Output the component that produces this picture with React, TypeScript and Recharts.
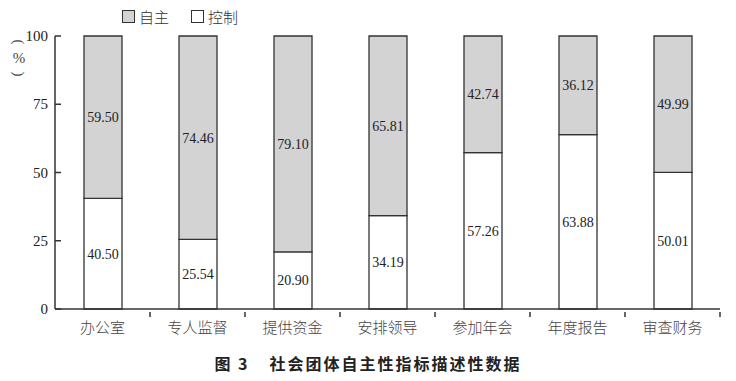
import { BarChart, Bar, XAxis, YAxis, LabelList } from 'recharts';

const categories = ['办公室', '专人监督', '提供资金', '安排领导', '参加年会', '年度报告', '审查财务'];
const controlValues = [40.5, 25.54, 20.9, 34.19, 57.26, 63.88, 50.01];
const autonomyValues = [59.5, 74.46, 79.1, 65.81, 42.74, 36.12, 49.99];
const yTicks = [0, 25, 50, 75, 100];

const data = categories.map((name, i) => ({
  name,
  control: controlValues[i],
  autonomy: autonomyValues[i],
}));

const serif = '"Liberation Serif", "DejaVu Serif", serif';
const cjk = '"Noto Sans CJK SC", sans-serif';
const axisColor = '#333';

const CHART_W = 736;
const MARGIN = { top: 36, right: 16, left: 0, bottom: 6 };
const Y_WIDTH = 55;
const halfBand = (CHART_W - MARGIN.left - MARGIN.right - Y_WIDTH) / categories.length / 2;

function XTick(props: any) {
  const { x, y, payload } = props;
  return (
    <g>
      <line x1={x + halfBand} y1={y} x2={x + halfBand} y2={y - 5} stroke={axisColor} strokeWidth={1.5} />
      <text x={x} y={y + 16} textAnchor="middle" fill="#444" fontSize={15} fontFamily={cjk} fontWeight={300}>
        {payload.value}
      </text>
    </g>
  );
}

function YTick(props: any) {
  const { x, y, payload } = props;
  return (
    <g>
      <line x1={x} y1={y} x2={x + 6} y2={y} stroke={axisColor} strokeWidth={1.5} />
      <text x={x - 7} y={y + 5} textAnchor="end" fill="#222" fontSize={15} fontFamily={serif}>
        {payload.value}
      </text>
    </g>
  );
}

function YLabel() {
  return (
    <g fill="#444" fontSize={15} fontFamily={serif}>
      <text x={0} y={0} transform="translate(19 42) rotate(90)" textAnchor="middle" dominantBaseline="central">(</text>
      <text x={19} y={58} textAnchor="middle" dominantBaseline="central">%</text>
      <text x={0} y={0} transform="translate(19 74) rotate(90)" textAnchor="middle" dominantBaseline="central">)</text>
    </g>
  );
}

function LegendBox() {
  const item = (fill: string, label: string) => (
    <span style={{ display: 'inline-flex', alignItems: 'center', marginRight: 22 }}>
      <span style={{ width: 11, height: 11, background: fill, border: '1.5px solid #333', marginRight: 4 }} />
      <span style={{ fontFamily: cjk, fontSize: 15, color: '#333', fontWeight: 300 }}>{label}</span>
    </span>
  );
  return (
    <div style={{ position: 'absolute', top: 6, left: 122, display: 'flex' }}>
      {item('#d3d3d3', '自主')}
      {item('#fff', '控制')}
    </div>
  );
}

export default function App() {
  return (
    <div style={{ position: 'fixed', left: 0, top: 0, width: 736, height: 381, background: '#fff' }}>
      <BarChart width={CHART_W} height={340} data={data} margin={MARGIN} barSize={38}>
        <XAxis
          dataKey="name"
          height={25}
          stroke={axisColor}
          strokeWidth={1.5}
          tickLine={false}
          tick={<XTick />}
          interval={0}
        />
        <YAxis
          width={Y_WIDTH}
          domain={[0, 100]}
          ticks={yTicks}
          stroke={axisColor}
          strokeWidth={1.5}
          tickLine={false}
          tickSize={0}
          tickMargin={0}
          tick={<YTick />}
          label={<YLabel />}
        />
        <Bar dataKey="control" stackId="a" fill="#ffffff" stroke={axisColor} strokeWidth={1.3} isAnimationActive={false}>
          <LabelList
            dataKey="control"
            position="center"
            formatter={(v: any) => Number(v).toFixed(2)}
            fill="#222"
            fontSize={14}
            fontFamily={serif}
          />
        </Bar>
        <Bar dataKey="autonomy" stackId="a" fill="#d3d3d3" stroke={axisColor} strokeWidth={1.3} isAnimationActive={false}>
          <LabelList
            dataKey="autonomy"
            position="center"
            formatter={(v: any) => Number(v).toFixed(2)}
            fill="#222"
            fontSize={14}
            fontFamily={serif}
          />
        </Bar>
      </BarChart>
      <LegendBox />
      <div
        style={{
          position: 'absolute',
          top: 351,
          left: 0,
          width: 736,
          textAlign: 'center',
          fontFamily: cjk,
          fontWeight: 'bold',
          fontSize: 16,
          color: '#222',
          letterSpacing: 2,
        }}
      >
        图 3<span style={{ display: 'inline-block', width: 20 }} />社会团体自主性指标描述性数据
      </div>
    </div>
  );
}
